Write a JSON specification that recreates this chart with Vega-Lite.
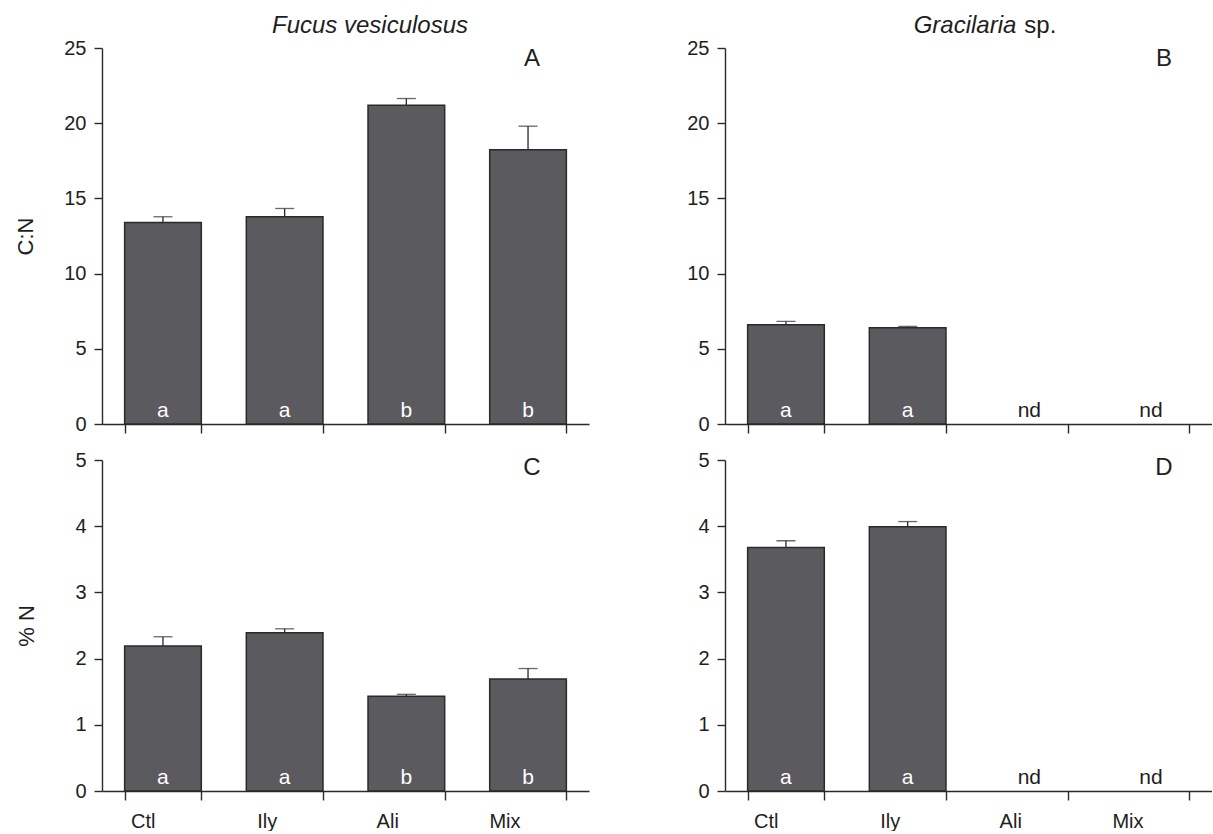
{
  "$schema": "https://vega.github.io/schema/vega-lite/v6.json",
  "padding": {"left": 14, "top": 13, "right": 0, "bottom": 0},
  "background": "white",
  "config": {
    "font": "Liberation Sans",
    "view": {"stroke": null},
    "axis": {
      "domainColor": "#2a2a2a", "domainWidth": 1.4, "tickColor": "#2a2a2a", "tickWidth": 1.4,
      "labelColor": "#1e1e1e", "labelFontSize": 20, "titleColor": "#1e1e1e", "titleFontSize": 22,
      "titleFontWeight": "normal", "grid": false, "labelFont": "Liberation Sans", "titleFont": "Liberation Sans"
    }
  },
  "datasets": {
    "cn": [
      {"species": "Fucus", "trt": "Ctl", "mean": 13.4, "upper": 13.78, "letter": "a"},
      {"species": "Fucus", "trt": "Ily", "mean": 13.78, "upper": 14.33, "letter": "a"},
      {"species": "Fucus", "trt": "Ali", "mean": 21.2, "upper": 21.64, "letter": "b"},
      {"species": "Fucus", "trt": "Mix", "mean": 18.24, "upper": 19.8, "letter": "b"},
      {"species": "Gracilaria", "trt": "Ctl", "mean": 6.6, "upper": 6.82, "letter": "a"},
      {"species": "Gracilaria", "trt": "Ily", "mean": 6.4, "upper": 6.49, "letter": "a"},
      {"species": "Gracilaria", "trt": "Ali", "mean": null, "upper": null, "letter": "nd"},
      {"species": "Gracilaria", "trt": "Mix", "mean": null, "upper": null, "letter": "nd"}
    ],
    "pn": [
      {"species": "Fucus", "trt": "Ctl", "mean": 2.19, "upper": 2.33, "letter": "a"},
      {"species": "Fucus", "trt": "Ily", "mean": 2.39, "upper": 2.45, "letter": "a"},
      {"species": "Fucus", "trt": "Ali", "mean": 1.43, "upper": 1.46, "letter": "b"},
      {"species": "Fucus", "trt": "Mix", "mean": 1.69, "upper": 1.85, "letter": "b"},
      {"species": "Gracilaria", "trt": "Ctl", "mean": 3.68, "upper": 3.78, "letter": "a"},
      {"species": "Gracilaria", "trt": "Ily", "mean": 3.99, "upper": 4.07, "letter": "a"},
      {"species": "Gracilaria", "trt": "Ali", "mean": null, "upper": null, "letter": "nd"},
      {"species": "Gracilaria", "trt": "Mix", "mean": null, "upper": null, "letter": "nd"}
    ]
  },
  "spacing": 16,
  "vconcat": [
    {
      "bounds": "flush",
      "spacing": 136,
      "hconcat": [
        {
          "width": 487, "height": 376,
          "layer": [
            {
              "data": {"name": "cn"},
              "transform": [{"filter": "datum.species === 'Fucus'"}],
              "layer": [
                {"mark": {"type": "rule", "color": "#2a2a2a", "strokeWidth": 1.3},
                 "encoding": {"x": {"field": "trt", "type": "nominal"}, "y": {"field": "mean", "type": "quantitative"}, "y2": {"field": "upper"}}},
                {"mark": {"type": "tick", "color": "#2a2a2a", "size": 19, "thickness": 1.3},
                 "encoding": {"x": {"field": "trt", "type": "nominal"}, "y": {"field": "upper", "type": "quantitative"}}},
                {"mark": {"type": "bar", "fill": "#5b5a5f", "stroke": "#2a2a2a", "strokeWidth": 1.5},
                 "encoding": {
                   "x": {"field": "trt", "type": "nominal", "sort": ["Ctl", "Ily", "Ali", "Mix"],
                         "scale": {"domain": ["Ctl", "Ily", "Ali", "Mix"], "paddingInner": 0.37, "paddingOuter": 0.186},
                         "axis": {"title": null, "labels": false, "tickBand": "extent", "tickSize": 9, "domain": true}},
                   "y": {"field": "mean", "type": "quantitative",
                         "scale": {"domain": [0, 25], "nice": false},
                         "axis": {"title": "C:N", "values": [0, 5, 10, 15, 20, 25], "format": "d", "tickSize": 8, "labelPadding": 8, "titlePadding": 26}}
                 }},
                {"mark": {"type": "text", "baseline": "alphabetic", "dy": -7, "fontSize": 21},
                 "encoding": {"x": {"field": "trt", "type": "nominal"}, "y": {"datum": 0},
                   "text": {"field": "letter"},
                   "color": {"condition": {"test": "datum.mean === null", "value": "#1e1e1e"}, "value": "white"}}}
              ]
            },
            {
              "data": {"values": [{"label": "A"}]},
              "mark": {"type": "text", "fontSize": 24, "baseline": "alphabetic", "dx": 4, "color": "#1e1e1e"},
              "encoding": {"x": {"datum": "Mix"}, "y": {"datum": 23.8}, "text": {"field": "label"}}
            },
            {
              "data": {"values": [{"label": "Fucus vesiculosus"}]},
              "mark": {"type": "text", "fontSize": 24, "fontStyle": "italic", "baseline": "alphabetic", "dx": 2, "color": "#1e1e1e"},
              "encoding": {"x": {"datum": "Ali", "bandPosition": 0}, "y": {"datum": 26.0}, "text": {"field": "label"}}
            }
          ]
        },
        {
          "width": 487, "height": 376,
          "layer": [
            {
              "data": {"name": "cn"},
              "transform": [{"filter": "datum.species === 'Gracilaria'"}],
              "layer": [
                {"mark": {"type": "rule", "color": "#2a2a2a", "strokeWidth": 1.3},
                 "encoding": {"x": {"field": "trt", "type": "nominal"}, "y": {"field": "mean", "type": "quantitative"}, "y2": {"field": "upper"}}},
                {"mark": {"type": "tick", "color": "#2a2a2a", "size": 19, "thickness": 1.3},
                 "encoding": {"x": {"field": "trt", "type": "nominal"}, "y": {"field": "upper", "type": "quantitative"}}},
                {"mark": {"type": "bar", "fill": "#5b5a5f", "stroke": "#2a2a2a", "strokeWidth": 1.5},
                 "encoding": {
                   "x": {"field": "trt", "type": "nominal", "sort": ["Ctl", "Ily", "Ali", "Mix"],
                         "scale": {"domain": ["Ctl", "Ily", "Ali", "Mix"], "paddingInner": 0.37, "paddingOuter": 0.186},
                         "axis": {"title": null, "labels": false, "tickBand": "extent", "tickSize": 9, "domain": true}},
                   "y": {"field": "mean", "type": "quantitative",
                         "scale": {"domain": [0, 25], "nice": false},
                         "axis": {"title": null, "values": [0, 5, 10, 15, 20, 25], "format": "d", "tickSize": 8, "labelPadding": 8}}
                 }},
                {"mark": {"type": "text", "baseline": "alphabetic", "dy": -7, "fontSize": 21},
                 "encoding": {"x": {"field": "trt", "type": "nominal"}, "y": {"datum": 0},
                   "text": {"field": "letter"},
                   "color": {"condition": {"test": "datum.mean === null", "value": "#1e1e1e"}, "value": "white"}}}
              ]
            },
            {
              "data": {"values": [{"label": "B"}]},
              "mark": {"type": "text", "fontSize": 24, "baseline": "alphabetic", "dx": 13, "color": "#1e1e1e"},
              "encoding": {"x": {"datum": "Mix"}, "y": {"datum": 23.8}, "text": {"field": "label"}}
            },
            {
              "data": {"values": [{"label": "Gracilaria"}]},
              "mark": {"type": "text", "fontSize": 24, "fontStyle": "italic", "baseline": "alphabetic", "align": "right", "dx": -13, "color": "#1e1e1e"},
              "encoding": {"x": {"datum": "Ali"}, "y": {"datum": 26.0}, "text": {"field": "label"}}
            },
            {
              "data": {"values": [{"label": "sp."}]},
              "mark": {"type": "text", "fontSize": 24, "baseline": "alphabetic", "align": "left", "dx": -5, "color": "#1e1e1e"},
              "encoding": {"x": {"datum": "Ali"}, "y": {"datum": 26.0}, "text": {"field": "label"}}
            }
          ]
        }
      ]
    },
    {
      "bounds": "flush",
      "spacing": 136,
      "hconcat": [
        {
          "width": 487, "height": 331,
          "layer": [
            {
              "data": {"name": "pn"},
              "transform": [{"filter": "datum.species === 'Fucus'"}],
              "layer": [
                {"mark": {"type": "rule", "color": "#2a2a2a", "strokeWidth": 1.3},
                 "encoding": {"x": {"field": "trt", "type": "nominal"}, "y": {"field": "mean", "type": "quantitative"}, "y2": {"field": "upper"}}},
                {"mark": {"type": "tick", "color": "#2a2a2a", "size": 19, "thickness": 1.3},
                 "encoding": {"x": {"field": "trt", "type": "nominal"}, "y": {"field": "upper", "type": "quantitative"}}},
                {"mark": {"type": "bar", "fill": "#5b5a5f", "stroke": "#2a2a2a", "strokeWidth": 1.5},
                 "encoding": {
                   "x": {"field": "trt", "type": "nominal", "sort": ["Ctl", "Ily", "Ali", "Mix"],
                         "scale": {"domain": ["Ctl", "Ily", "Ali", "Mix"], "paddingInner": 0.37, "paddingOuter": 0.186},
                         "axis": {"title": null, "labelAngle": 0, "tickBand": "extent", "tickSize": 9, "labelPadding": 21, "labelOffset": -8}},
                   "y": {"field": "mean", "type": "quantitative",
                         "scale": {"domain": [0, 5], "nice": false},
                         "axis": {"title": "% N", "values": [0, 1, 2, 3, 4, 5], "format": "d", "tickSize": 8, "labelPadding": 8, "titlePadding": 36}}
                 }},
                {"mark": {"type": "text", "baseline": "alphabetic", "dy": -7, "fontSize": 21},
                 "encoding": {"x": {"field": "trt", "type": "nominal"}, "y": {"datum": 0},
                   "text": {"field": "letter"},
                   "color": {"condition": {"test": "datum.mean === null", "value": "#1e1e1e"}, "value": "white"}}}
              ]
            },
            {
              "data": {"values": [{"label": "C"}]},
              "mark": {"type": "text", "fontSize": 24, "baseline": "alphabetic", "dx": 4, "color": "#1e1e1e"},
              "encoding": {"x": {"datum": "Mix"}, "y": {"datum": 4.77}, "text": {"field": "label"}}
            }
          ]
        },
        {
          "width": 487, "height": 331,
          "layer": [
            {
              "data": {"name": "pn"},
              "transform": [{"filter": "datum.species === 'Gracilaria'"}],
              "layer": [
                {"mark": {"type": "rule", "color": "#2a2a2a", "strokeWidth": 1.3},
                 "encoding": {"x": {"field": "trt", "type": "nominal"}, "y": {"field": "mean", "type": "quantitative"}, "y2": {"field": "upper"}}},
                {"mark": {"type": "tick", "color": "#2a2a2a", "size": 19, "thickness": 1.3},
                 "encoding": {"x": {"field": "trt", "type": "nominal"}, "y": {"field": "upper", "type": "quantitative"}}},
                {"mark": {"type": "bar", "fill": "#5b5a5f", "stroke": "#2a2a2a", "strokeWidth": 1.5},
                 "encoding": {
                   "x": {"field": "trt", "type": "nominal", "sort": ["Ctl", "Ily", "Ali", "Mix"],
                         "scale": {"domain": ["Ctl", "Ily", "Ali", "Mix"], "paddingInner": 0.37, "paddingOuter": 0.186},
                         "axis": {"title": null, "labelAngle": 0, "tickBand": "extent", "tickSize": 9, "labelPadding": 21, "labelOffset": -8}},
                   "y": {"field": "mean", "type": "quantitative",
                         "scale": {"domain": [0, 5], "nice": false},
                         "axis": {"title": null, "values": [0, 1, 2, 3, 4, 5], "format": "d", "tickSize": 8, "labelPadding": 8}}
                 }},
                {"mark": {"type": "text", "baseline": "alphabetic", "dy": -7, "fontSize": 21},
                 "encoding": {"x": {"field": "trt", "type": "nominal"}, "y": {"datum": 0},
                   "text": {"field": "letter"},
                   "color": {"condition": {"test": "datum.mean === null", "value": "#1e1e1e"}, "value": "white"}}}
              ]
            },
            {
              "data": {"values": [{"label": "D"}]},
              "mark": {"type": "text", "fontSize": 24, "baseline": "alphabetic", "dx": 13, "color": "#1e1e1e"},
              "encoding": {"x": {"datum": "Mix"}, "y": {"datum": 4.77}, "text": {"field": "label"}}
            }
          ]
        }
      ]
    }
  ]
}
